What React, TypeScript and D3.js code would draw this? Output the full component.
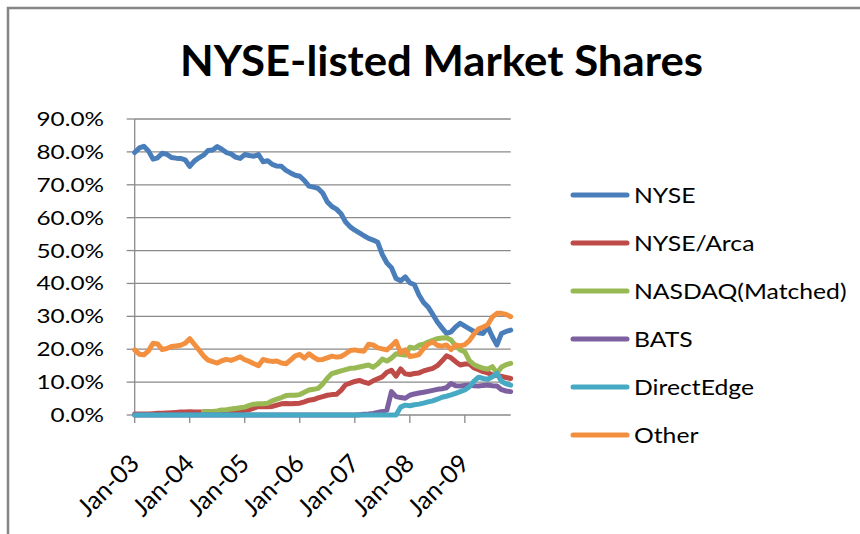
import React from "react";
import * as d3 from "d3";

// Monthly market shares (%), Jan-03 .. Nov-09
const NYSE = [79.8,81.2,81.7,80.3,77.8,78.2,79.6,79.3,78.3,78.1,78.0,77.6,75.6,77.2,78.2,79.0,80.4,80.6,81.6,80.8,79.8,79.4,78.4,78.0,79.2,78.9,78.7,79.2,77.0,77.3,76.2,75.7,75.6,74.4,73.6,72.9,72.6,71.3,69.6,69.3,68.9,67.5,64.8,63.4,62.6,61.2,58.7,57.2,56.2,55.4,54.5,53.7,53.2,52.5,48.8,46.2,44.8,41.5,40.8,42.0,40.2,39.6,36.5,34.2,32.8,30.6,28.3,26.5,24.8,25.3,26.8,27.9,27.0,26.2,25.4,25.0,24.8,26.8,23.8,21.3,24.8,25.4,25.8];
const ARCA = [0.3,0.3,0.3,0.3,0.4,0.5,0.5,0.6,0.7,0.8,0.9,0.9,1.0,0.9,0.9,0.9,1.0,1.0,1.0,1.0,1.0,1.0,1.1,1.2,1.4,1.6,2.1,2.6,2.5,2.5,2.6,3.0,3.4,3.5,3.4,3.5,3.6,4.0,4.5,4.7,5.2,5.6,6.0,6.2,6.3,7.5,9.2,9.7,10.2,10.5,10.0,9.6,10.4,11.0,11.6,13.0,13.6,11.8,14.0,12.5,12.3,12.6,12.8,13.4,13.8,14.2,15.0,16.4,18.0,17.4,16.2,15.2,15.5,15.5,14.3,13.8,13.2,12.8,12.2,12.0,11.7,11.4,11.1];
const NASDAQ: (number | null)[] = [null,null,null,null,null,null,null,null,null,null,null,null,null,null,null,
  1.0,1.0,1.1,1.2,1.5,1.6,1.8,2.0,2.2,2.4,2.9,3.3,3.4,3.4,3.6,4.3,4.8,5.3,5.9,6.0,6.0,6.2,6.9,7.6,7.8,8.1,9.4,11.2,12.6,13.0,13.4,13.8,14.2,14.3,14.6,14.9,15.2,14.5,15.5,17.0,16.4,17.3,18.6,18.4,18.2,20.6,20.3,21.2,21.5,22.2,22.7,23.2,23.4,23.5,22.8,21.0,19.8,19.2,16.5,15.3,14.7,14.2,13.9,14.7,12.7,14.6,15.3,15.7];
const BATS = [0,0,0,0,0,0,0,0,0,0,0,0,0,0,0,0,0,0,0,0,0,0,0,0,0,0,0,0,0,0,0,0,0,0,0,0,0,0,0,0,0,0,0,0,0,0,0,0,
  0.0,0.1,0.2,0.3,0.5,0.8,1.1,1.5,7.1,5.6,5.3,5.1,6.0,6.4,6.7,6.9,7.2,7.5,7.8,8.0,8.3,9.6,8.9,8.8,9.0,9.1,8.9,8.8,9.0,9.1,8.9,8.8,7.7,7.3,7.1];
const DIRECTEDGE = [0,0,0,0,0,0,0,0,0,0,0,0,0,0,0,0,0,0,0,0,0,0,0,0,0,0,0,0,0,0,0,0,0,0,0,0,0,0,0,0,0,0,0,0,0,0,0,0,0,0,0,0,0,0,0,0,0,0,
  2.4,3.0,2.8,3.1,3.3,3.6,4.0,4.3,4.8,5.4,5.7,6.1,6.6,7.1,7.6,8.6,10.3,11.5,11.1,10.9,11.6,12.7,10.2,9.5,9.1];
const OTHER = [19.8,18.5,18.3,19.5,21.8,21.6,19.9,20.2,20.8,21.0,21.2,21.8,23.2,21.5,19.8,18.0,16.7,16.2,15.8,16.5,16.9,16.6,17.1,17.7,16.8,16.3,15.6,15.0,16.9,16.5,16.3,16.4,15.8,15.6,16.7,18.0,18.4,17.3,18.6,17.6,16.8,16.9,17.4,17.9,17.6,17.8,18.6,19.6,19.8,19.5,19.4,21.5,21.3,20.4,20.1,19.8,21.0,22.4,18.9,19.8,17.8,18.0,18.4,20.2,21.6,22.2,21.2,20.9,21.3,19.9,21.3,21.0,21.4,22.6,24.6,26.2,26.7,27.5,29.8,30.9,30.9,30.6,29.9];

const SERIES_NAMES = ["NYSE", "NYSE/Arca", "NASDAQ(Matched)", "BATS", "DirectEdge", "Other"];
const SERIES_COLORS = ["#4A7EBB", "#BE4B48", "#98B954", "#7D60A0", "#46AAC5", "#F39040"];
const SERIES_DATA: (number | null)[][] = [NYSE, ARCA, NASDAQ, BATS, DIRECTEDGE, OTHER];

const X_TICK_LABELS = ["Jan-03", "Jan-04", "Jan-05", "Jan-06", "Jan-07", "Jan-08", "Jan-09"];
const X_TICK_INDEX = [0, 12, 24, 36, 48, 60, 72];
const Y_TICKS = [0, 10, 20, 30, 40, 50, 60, 70, 80, 90];

const FONT = "Lato, 'Noto Sans', sans-serif";
const GRID = "#8a8a8a";

export default function App() {
  const x = d3.scaleLinear().domain([0, NYSE.length - 1]).range([134.7, 510.7]);
  const y = d3.scaleLinear().domain([0, 90]).range([415, 119]);
  const line = d3
    .line<number | null>()
    .defined((d) => d != null)
    .x((_, i) => x(i))
    .y((d) => y(d as number));

  const legendY = d3.scaleLinear().domain([0, 5]).range([195, 435]);

  return (
    <svg
      width={860}
      height={534}
      style={{ position: "absolute", left: 0, top: 0, background: "#fff" }}
    >
      <rect x={0} y={0} width={860} height={534} fill="#fff" />
      <rect x={8} y={8} width={900} height={600} fill="#fff" stroke="#858585" strokeWidth={2.5} />

      <text
        x={441.5}
        y={76}
        textAnchor="middle"
        fontFamily={FONT}
        fontWeight={700}
        fontSize={42}
        textLength={523}
        lengthAdjust="spacingAndGlyphs"
        fill="#000"
      >
        NYSE-listed Market Shares
      </text>

      {/* gridlines */}
      {Y_TICKS.filter((v) => v > 0).map((v) => (
        <line key={v} x1={x(0)} x2={x(NYSE.length - 1)} y1={y(v)} y2={y(v)} stroke={GRID} strokeWidth={1.3} />
      ))}
      {/* y axis */}
      <line x1={x(0)} x2={x(0)} y1={y(90)} y2={y(0)} stroke={GRID} strokeWidth={1.3} />
      {Y_TICKS.map((v) => (
        <line key={"t" + v} x1={x(0) - 8} x2={x(0)} y1={y(v)} y2={y(v)} stroke={GRID} strokeWidth={1.3} />
      ))}
      {Y_TICKS.map((v) => (
        <text
          key={"l" + v}
          transform={`translate(104,${y(v) + 7}) scale(1.28,1)`}
          textAnchor="end"
          fontFamily={FONT}
          fontSize={19}
          fill="#000"
        >
          {d3.format(".1f")(v) + "%"}
        </text>
      ))}
      {/* x axis */}
      <line x1={x(0)} x2={x(NYSE.length - 1)} y1={y(0)} y2={y(0)} stroke={GRID} strokeWidth={1.3} />
      {X_TICK_INDEX.map((m, i) => (
        <g key={"x" + m}>
          <line x1={x(m)} x2={x(m)} y1={y(0)} y2={y(0) + 8} stroke={GRID} strokeWidth={1.3} />
          <text
            transform={`translate(${x(m) + 6},${y(0) + 50}) rotate(-45)`}
            textAnchor="end"
            fontFamily={FONT}
            fontSize={25}
            fill="#000"
          >
            {X_TICK_LABELS[i]}
          </text>
        </g>
      ))}

      {/* series */}
      {SERIES_DATA.map((data, i) => (
        <path
          key={SERIES_NAMES[i]}
          d={line(data) || ""}
          fill="none"
          stroke={SERIES_COLORS[i]}
          strokeWidth={5}
          strokeLinejoin="round"
          strokeLinecap="round"
        />
      ))}

      {/* legend */}
      {SERIES_NAMES.map((name, i) => (
        <g key={"lg" + name}>
          <line
            x1={573}
            x2={627}
            y1={legendY(i)}
            y2={legendY(i)}
            stroke={SERIES_COLORS[i]}
            strokeWidth={5}
            strokeLinecap="round"
          />
          <text
            transform={`translate(634,${legendY(i) + 7.5}) scale(1.15,1)`}
            fontFamily={FONT}
            fontSize={21.5}
            fill="#000"
          >
            {name}
          </text>
        </g>
      ))}
    </svg>
  );
}
